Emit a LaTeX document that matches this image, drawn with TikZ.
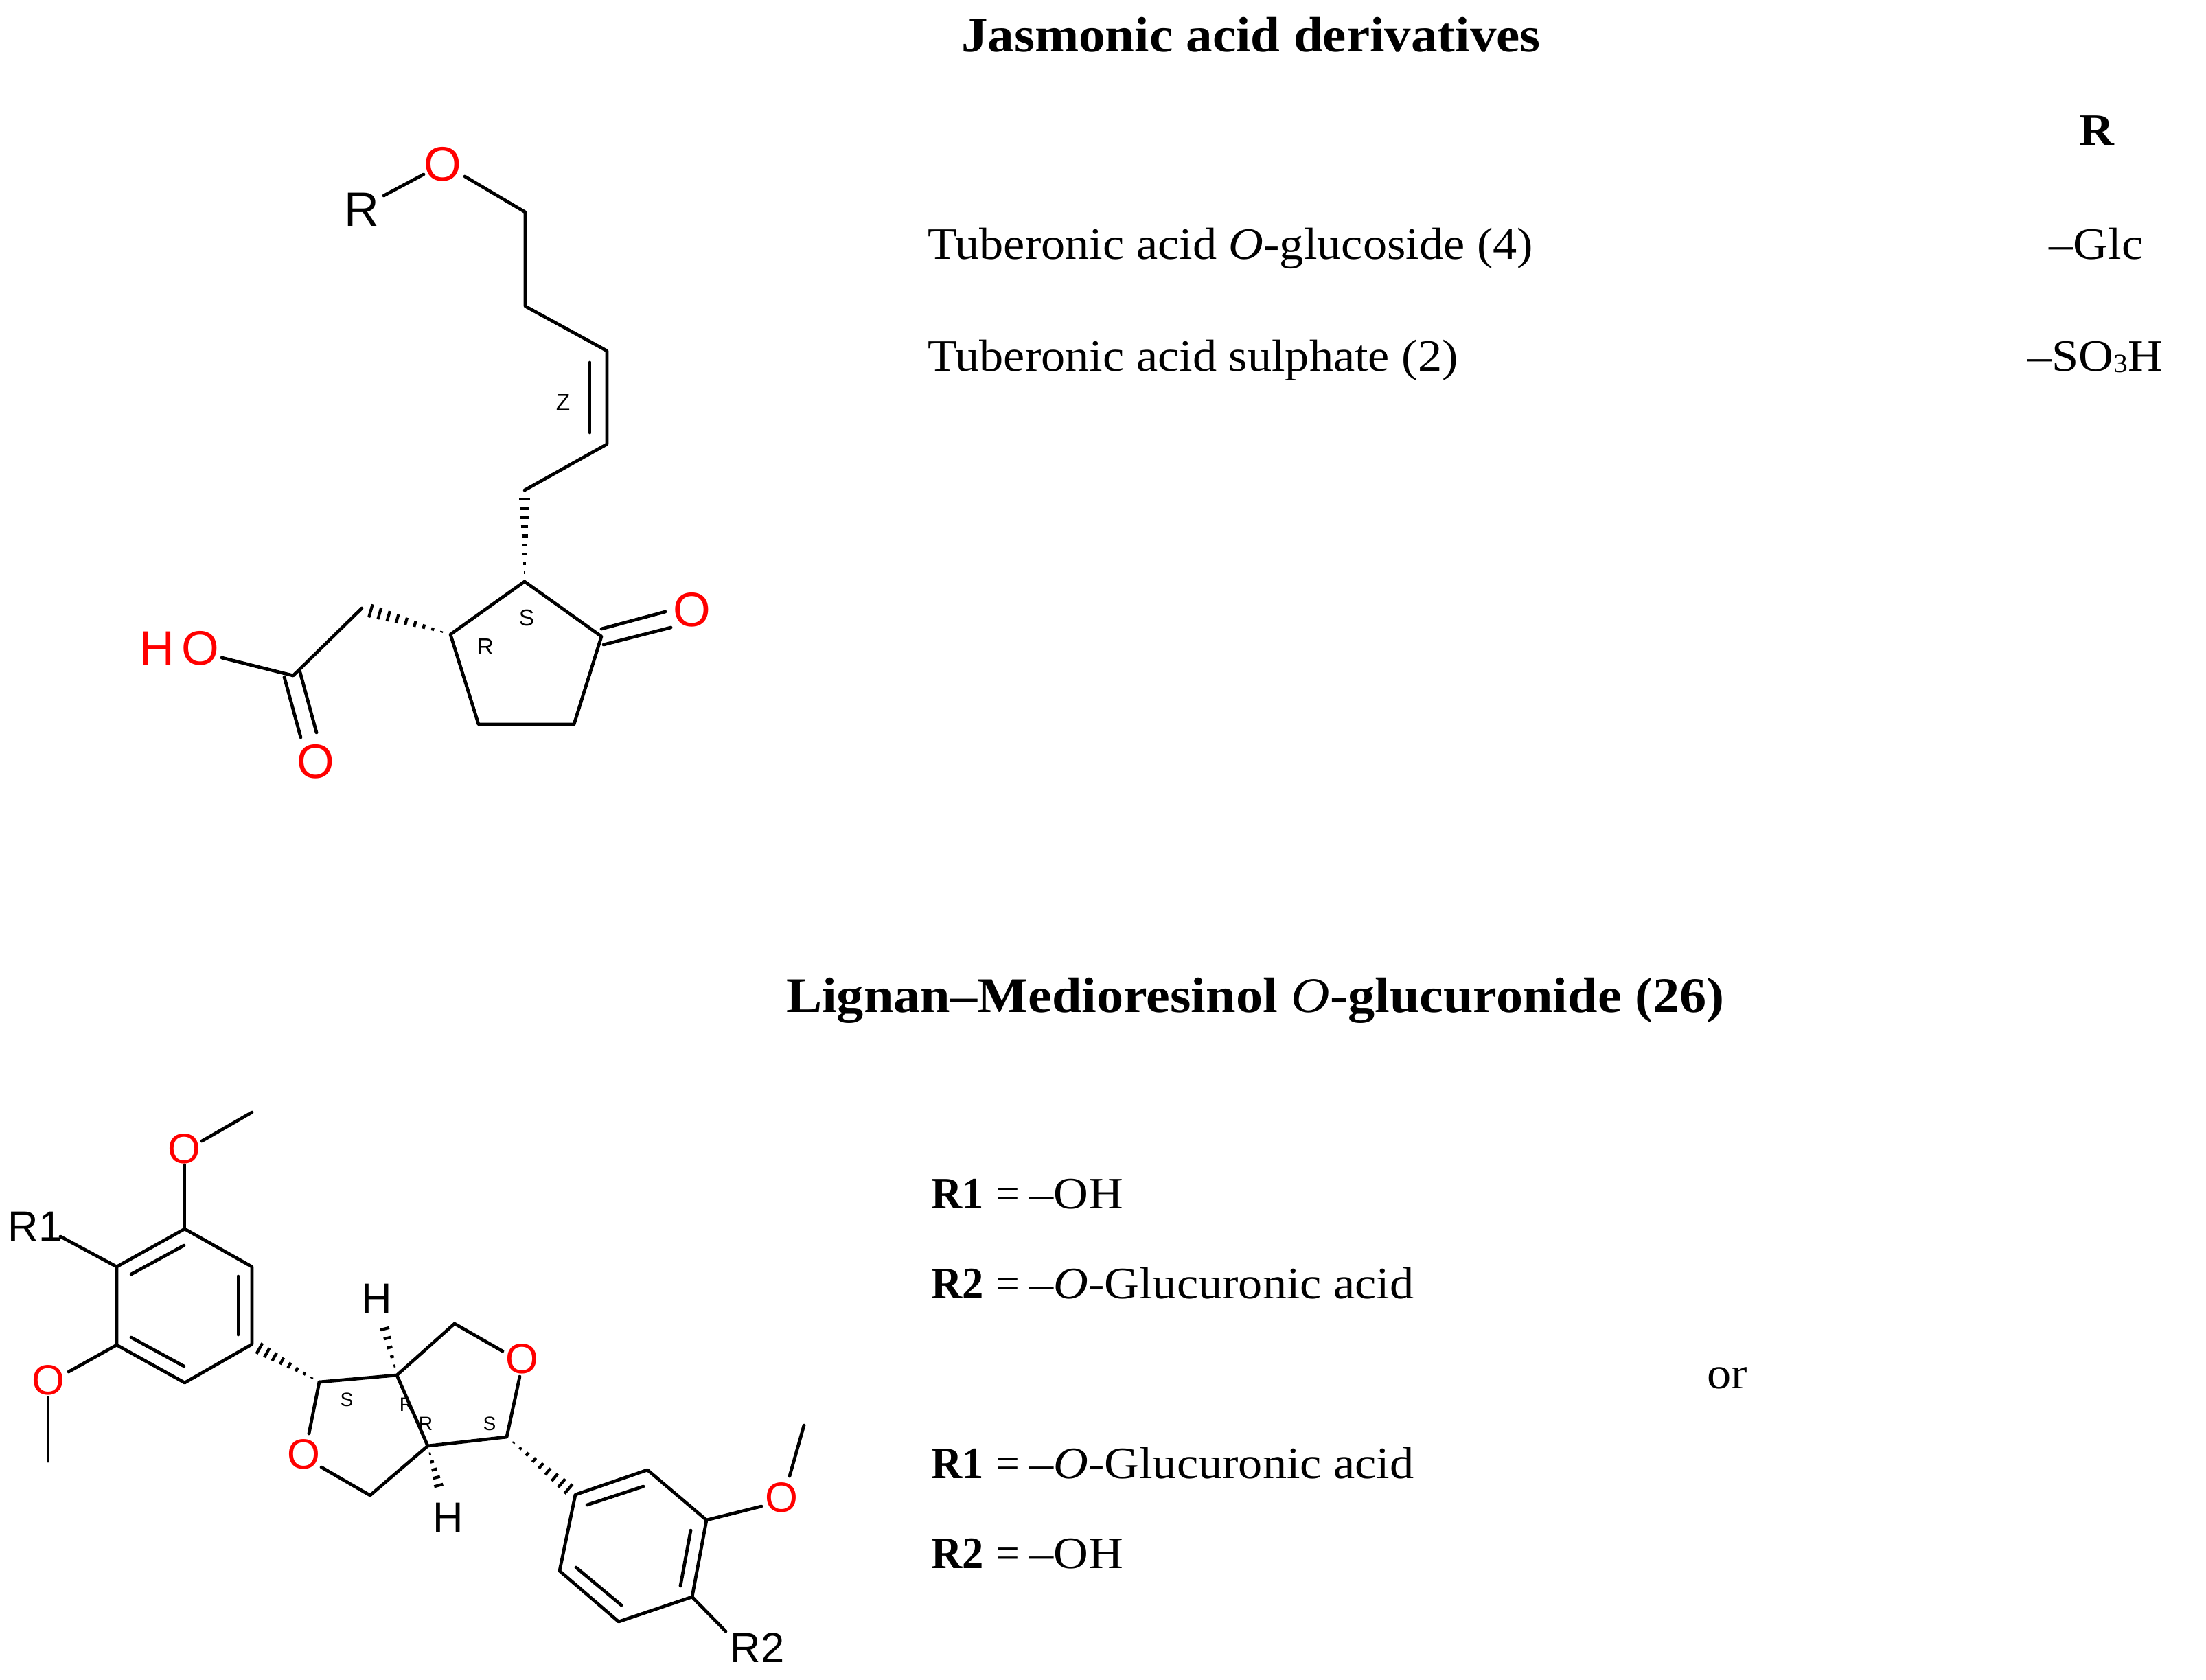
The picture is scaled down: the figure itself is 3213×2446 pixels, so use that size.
\documentclass[tikz,border=0pt]{standalone}
\usepackage{fontspec}
\setmainfont{Liberation Serif}[FakeStretch=1.075]
\newfontfamily\chem{Liberation Sans}
\definecolor{ored}{RGB}{255,0,0}
\tikzset{
  x=0.01cm,y=-0.01cm,
  bond/.style={line width=1.35pt,line cap=round,line join=round},
  txt/.style={anchor=base west,inner sep=0pt,outer sep=0pt,font=\fontsize{18.6}{22}\selectfont},
  txtc/.style={txt,anchor=base},
  head/.style={anchor=base west,inner sep=0pt,outer sep=0pt,font=\fontsize{20.6}{24}\selectfont\bfseries},
  atomA/.style={inner sep=0pt,font=\chem\fontsize{20}{24}\selectfont},
  atomB/.style={inner sep=0pt,font=\chem\fontsize{17.5}{20}\selectfont},
  stereoA/.style={inner sep=0pt,font=\chem\fontsize{9.5}{11}\selectfont},
  stereoB/.style={inner sep=0pt,font=\chem\fontsize{8}{10}\selectfont},
}
% hashed wedge: narrow end at #1, wide end at #2, half width #3 (px), #4 bars
\newcommand{\hashwedge}[4]{%
  \foreach \t in {1,...,#4}{%
    \pgfmathsetmacro{\f}{\t/#4}%
    \draw[line width=1.2pt]
      ($(#1)!\f!(#2)!#3*\f*0.01cm!90:(#2)$) -- ($(#1)!\f!(#2)!#3*\f*0.01cm!-90:(#2)$);
  }%
}
\newcommand{\rlab}[1]{\scalebox{0.89}[1]{\textbf{#1}}\hspace{5.4pt}\scalebox{0.85}[1]{=}\hspace{4pt}}
\usetikzlibrary{calc}
\begin{document}
\begin{tikzpicture}
\useasboundingbox (0,0) rectangle (3213,2446);
% ---------- Jasmonic acid
\coordinate (c1) at (765,309);
\coordinate (c2) at (765,446);
\coordinate (c3) at (884,511);
\coordinate (c4) at (884,647);
\coordinate (c5) at (764,714);
\coordinate (c6) at (764,847);
\coordinate (c7) at (656,924);
\coordinate (c8) at (697,1055);
\coordinate (c9) at (836,1055);
\coordinate (c10) at (876,927);
\coordinate (c11) at (527,886);
\coordinate (c12) at (427,984);
\node[atomA,text=ored] (o1) at (645,239) {O};
\node[atomA] (r) at (527,305) {R};
\node[atomA,text=ored] (o2) at (1008,888) {O};
\node[atomA,text=ored] (oh) at (292,944) {O};
\node[atomA,text=ored] (hh) at (229,944) {H};
\node[atomA,text=ored] (o3) at (460,1109) {O};
\draw[bond] ($(r)+(32,-20)$) -- ($(o1)+(-28,15)$);
\draw[bond] ($(o1)+(32,18)$) -- (c1) -- (c2) -- (c3) -- (c4) -- (c5);
\draw[bond] (859,528) -- (859,630);
\draw[bond] (c6) -- (c7) -- (c8) -- (c9) -- (c10) -- cycle;
\draw[bond] (876,916) -- (969,891);
\draw[bond] (879,939) -- (977,914);
\draw[bond] (c11) -- (c12) -- ($(oh)+(31,14)$);
\draw[bond] (414,986) -- (438,1074);
\draw[bond] (437,979) -- (461,1067);
\hashwedge{c6}{c5}{9}{10}
\hashwedge{c7}{c11}{11}{10}
\node[stereoA] (lz) at (820,586) {Z};
\node[stereoA] (lr) at (707,942) {R};
\node[stereoA] (ls) at (767,900) {S};
% ---------- Lignan
\coordinate (a1) at (269,1790);
\coordinate (a2) at (367,1845);
\coordinate (a3) at (367,1958);
\coordinate (a4) at (269,2014);
\coordinate (a5) at (170,1959);
\coordinate (a6) at (170,1845);
\coordinate (m1) at (367,1620);
\coordinate (m2) at (70,2128);
\coordinate (b1) at (465,2013);
\coordinate (b2) at (578,2003);
\coordinate (b3) at (623,2106);
\coordinate (b4) at (738,2093);
\coordinate (b5) at (662,1928);
\coordinate (b6) at (539,2178);
\coordinate (d1) at (838,2177);
\coordinate (d2) at (943,2141);
\coordinate (d3) at (1029,2214);
\coordinate (d4) at (1008,2326);
\coordinate (d5) at (901,2362);
\coordinate (d6) at (815,2288);
\coordinate (m3) at (1171,2076);
\coordinate (h1e) at (557,1922);
\coordinate (h2e) at (642,2175);
\node[atomB,text=ored] (o4) at (268,1673) {O};
\node[atomB,text=ored] (o5) at (70,2010) {O};
\node[atomB,text=ored] (o6) at (442,2118) {O};
\node[atomB,text=ored] (o7) at (760,1979) {O};
\node[atomB,text=ored] (o8) at (1138,2181) {O};
\node[atomB] (r1) at (51,1786) {R1};
\node[atomB] (r2) at (1103,2400) {R2};
\node[atomB] (h1) at (549,1891) {H};
\node[atomB] (h2) at (653,2210) {H};
\node[stereoB] (s1) at (505,2039) {S};
\node[stereoB] (s2) at (592,2046) {R};
\node[stereoB] (s3) at (620,2074) {R};
\node[stereoB] (s4) at (713,2074) {S};
\draw[bond] ($(o4)+(26,-11)$) -- (m1);
\draw[bond] ($(o4)+(1,24)$) -- (a1);
\draw[bond] (a1) -- (a2) -- (a3) -- (a4) -- (a5) -- (a6) -- cycle;
\draw[bond] (268,1814) -- (191,1856);
\draw[bond] (347,1859) -- (347,1944);
\draw[bond] (268,1990) -- (191,1948);
\draw[bond] ($(r1)+(37,15)$) -- (a6);
\draw[bond] ($(o5)+(30,-12)$) -- (a5);
\draw[bond] ($(o5)+(0,26)$) -- (m2);
\draw[bond] (b1) -- ($(o6)+(8,-30)$);
\draw[bond] ($(o6)+(26,19)$) -- (b6) -- (b3) -- (b4) -- ($(o7)+(-3,26)$);
\draw[bond] (b1) -- (b2) -- (b5) -- ($(o7)+(-28,-11)$);
\draw[white,line width=2.5pt] ($(s2)+(5,-12)$) -- ($(s2)+(14,12)$);
\draw[bond] (b2) -- (b3);
\hashwedge{b1}{a3}{10}{9}
\hashwedge{b2}{h1e}{8}{6}
\hashwedge{b3}{h2e}{8}{6}
\hashwedge{b4}{d1}{10}{10}
\draw[bond] (d1) -- (d2) -- (d3) -- (d4) -- (d5) -- (d6) -- cycle;
\draw[bond] (855,2192) -- (937,2165);
\draw[bond] (1006,2229) -- (991,2310);
\draw[bond] (905,2338) -- (839,2283);
\draw[bond] (d3) -- ($(o8)+(-29,13)$);
\draw[bond] ($(o8)+(12,-31)$) -- (m3);
\draw[bond] (d4) -- ($(r2)+(-46,-24)$);
% ---------- Text
\node[head] (t1) at (1400,76) {\scalebox{0.99}[1]{Jasmonic acid derivatives}};
\node[txtc,font=\fontsize{18.6}{22}\selectfont\bfseries] (t2) at (3054,212) {R};
\node[txt] (t3) at (1351,378) {Tuberonic acid \textit{O}-glucoside (4)};
\node[txtc] (t4) at (3053,378) {--Glc};
\node[txt] (t5) at (1351,541) {Tuberonic acid sulphate (2)};
\node[txtc] (t6) at (3052,541) {--SO\raisebox{-0.5pt}{\fontsize{11}{12}\selectfont 3}H};
\node[head] (t7) at (1145,1474) {\scalebox{1.005}[1]{Lignan--Medioresinol \textnormal{\textit{O}}-glucuronide (26)}};
\node[txt] (t8) at (1356,1760) {\rlab{R1}--OH};
\node[txt] (t9) at (1356,1891) {\rlab{R2}--\textit{O}-Glucuronic acid};
\node[txtc] (t10) at (2516,2022) {or};
\node[txt] (t11) at (1356,2153) {\rlab{R1}--\textit{O}-Glucuronic acid};
\node[txt] (t12) at (1356,2284) {\rlab{R2}--OH};
\end{tikzpicture}
\end{document}
